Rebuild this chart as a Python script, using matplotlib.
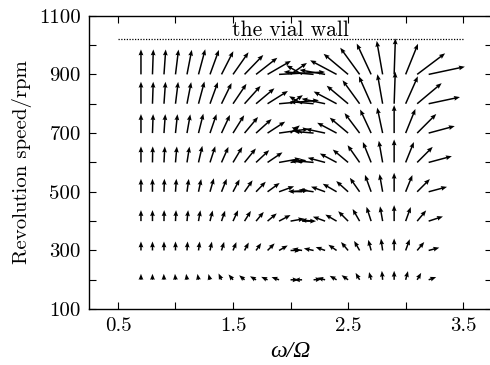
import numpy as np
import matplotlib
matplotlib.use("Agg")
import matplotlib.pyplot as plt

plt.rcParams['font.family'] = ['cmr10', 'DejaVu Serif']
plt.rcParams['mathtext.fontset'] = 'cm'
plt.rcParams['axes.formatter.use_mathtext'] = True

# columns (omega/Omega) and rows (rpm)
ratio = [0.7, 0.8, 0.9, 1.0, 1.1, 1.2, 1.3, 1.4, 1.5, 1.6, 1.7, 1.8, 1.9,
         2.0, 2.1, 2.2, 2.3, 2.4, 2.5, 2.6, 2.7, 2.8, 2.9, 3.0, 3.1, 3.2]
speed = [200, 300, 400, 500, 600, 700, 800, 900]

# arrow direction (deg) read per row
ang200 = [90, 90, 92, 95, 98, 100, 105, 115, 130, 140, 150, 155, 160, 0, 180, 5, 165, 150, 145, 120, 105, 95, 90, 75, 60, 20]
ang300 = [90, 90, 90, 90, 86, 82, 78, 73, 68, 62, 55, 45, 30, 0, 170, 168, 160, 145, 130, 120, 105, 98, 90, 70, 50, 15]
ang400 = [90, 90, 89, 87, 84, 80, 76, 71, 65, 58, 50, 40, 28, 10, 0, 175, 160, 150, 135, 120, 108, 100, 90, 70, 50, 18]
ang500 = [90, 90, 88, 86, 82, 78, 74, 68, 62, 55, 46, 36, 20, 5, 178, 172, 160, 150, 138, 125, 110, 100, 90, 68, 45, 15]
ang600 = [90, 89, 87, 85, 81, 77, 72, 66, 59, 51, 43, 34, 10, 8, 170, 175, 165, 152, 140, 125, 112, 100, 90, 68, 45, 15]
ang700 = [90, 88, 86, 84, 80, 76, 71, 65, 58, 50, 42, 33, 8, 40, 150, 175, 168, 152, 140, 127, 115, 102, 90, 68, 45, 15]
ang800 = [90, 88, 86, 83, 79, 75, 70, 64, 56, 48, 40, 32, 5, 35, 150, 175, 168, 152, 140, 126, 114, 100, 88, 66, 40, 12]
ang900 = [90, 88, 86, 83, 79, 75, 70, 63, 55, 46, 38, 30, 3, 35, 150, 175, 170, 152, 140, 126, 115, 100, 88, 68, 37, 12]

# arrow length (px) read per row
len200 = [6, 6, 6, 6, 6, 6, 6, 7, 7, 7, 7, 7, 8, 8, 8, 8, 8, 8, 8, 8, 8, 9, 9, 9, 8, 8]
len300 = [9, 9, 9, 9, 9, 9, 9, 9, 9, 9, 9, 10, 10, 10, 10, 10, 10, 10, 11, 11, 11, 12, 12, 12, 11, 11]
len400 = [11, 11, 11, 11, 11, 11, 11, 11, 12, 12, 12, 12, 13, 14, 14, 13, 13, 13, 14, 14, 15, 15, 16, 15, 14, 15]
len500 = [13, 13, 13, 13, 13, 13, 14, 14, 14, 14, 14, 15, 16, 18, 14, 15, 15, 16, 16, 17, 18, 18, 19, 18, 18, 19]
len600 = [16, 16, 16, 16, 16, 17, 17, 17, 18, 18, 18, 18, 22, 16, 12, 18, 18, 19, 20, 21, 22, 22, 23, 22, 22, 24]
len700 = [19, 19, 19, 19, 19, 20, 20, 20, 21, 21, 21, 21, 30, 12, 12, 20, 20, 22, 24, 25, 26, 26, 28, 26, 27, 27]
len800 = [22, 22, 22, 22, 22, 23, 23, 23, 24, 24, 24, 24, 40, 15, 15, 24, 24, 26, 28, 29, 30, 30, 32, 30, 32, 32]
len900 = [25, 25, 25, 25, 25, 26, 26, 26, 27, 27, 27, 27, 46, 20, 18, 30, 26, 30, 32, 33, 34, 34, 36, 33, 35, 37]

angles = np.radians([ang200, ang300, ang400, ang500, ang600, ang700, ang800, ang900])
lengths = np.array([len200, len300, len400, len500, len600, len700, len800, len900])

wall_rpm = 1020

X, Y = np.meshgrid(ratio, speed)
U = lengths * np.cos(angles)
V = lengths * np.sin(angles)

fig = plt.figure(figsize=(4.9, 3.65), dpi=100)
ax = fig.add_axes([0.182, 0.153, 0.822, 0.804])

ax.quiver(X, Y, U, V, angles='uv', scale_units='dots', scale=1,
          units='dots', width=1.5, headwidth=3.2, headlength=4.0,
          headaxislength=3.6, color='black', pivot='tail')

ax.plot([0.5, 3.5], [wall_rpm, wall_rpm], linestyle=(0, (1, 1.2)),
        color='black', lw=0.9)
ax.text(2.0, wall_rpm - 2, 'the vial wall', ha='center', va='bottom', fontsize=15.5)

ax.set_xlim(0.25, 3.75)
ax.set_ylim(100, 1100)
ax.set_xticks([0.5, 1.5, 2.5, 3.5])
ax.set_xticklabels(['0.5', '1.5', '2.5', '3.5'])
ax.set_xticks([1.0, 2.0, 3.0], minor=True)
ax.set_yticks([100, 300, 500, 700, 900, 1100])
ax.set_yticklabels(['100', '300', '500', '700', '900', '1100'])
ax.set_yticks([200, 400, 600, 800, 1000], minor=True)
ax.tick_params(which='both', direction='in', top=True, right=True,
               length=5, width=0.8, labelsize=15, pad=6)
ax.set_xlabel('ω/Ω', family='Liberation Serif', fontstyle='italic',
              fontsize=17, labelpad=4)
ax.set_ylabel('Revolution speed/rpm', fontsize=15, labelpad=5)
for s in ax.spines.values():
    s.set_linewidth(1.0)
ax.spines['right'].set_visible(False)

fig.savefig('out.png', dpi=100)
